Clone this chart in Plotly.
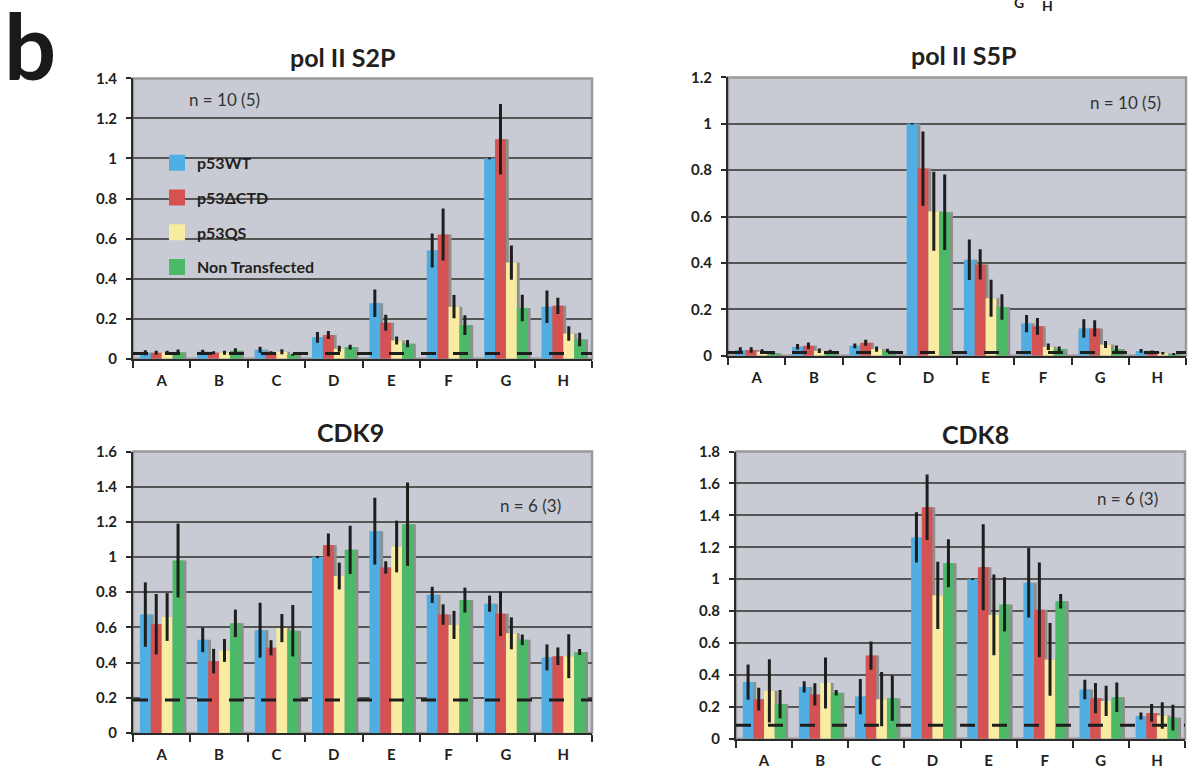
import plotly.graph_objects as go

# ---------------- data ----------------
categories = ["A", "B", "C", "D", "E", "F", "G", "H"]
series_names = ["p53WT", "p53ΔCTD", "p53QS", "Non Transfected"]
series_colors = ["#50AEE2", "#D55252", "#F8EBA2", "#4BB967"]

# pol II S2P
s2p_wt = [0.03, 0.035, 0.045, 0.107, 0.277, 0.54, 1.0, 0.26]
s2p_dctd = [0.03, 0.03, 0.03, 0.118, 0.18, 0.62, 1.096, 0.264]
s2p_qs = [0.03, 0.03, 0.035, 0.05, 0.091, 0.26, 0.48, 0.126]
s2p_nt = [0.033, 0.04, 0.02, 0.058, 0.075, 0.168, 0.253, 0.096]
s2p_wt_err = [0.012, 0.01, 0.015, 0.027, 0.069, 0.085, 0.004, 0.081]
s2p_dctd_err = [0.01, 0.008, 0.008, 0.02, 0.04, 0.13, 0.176, 0.04]
s2p_qs_err = [0.01, 0.01, 0.012, 0.015, 0.02, 0.058, 0.085, 0.036]
s2p_nt_err = [0.013, 0.012, 0.005, 0.012, 0.018, 0.049, 0.066, 0.034]
s2p_background = 0.026

# pol II S5P
s5p_wt = [0.025, 0.039, 0.043, 1.0, 0.414, 0.139, 0.118, 0.021]
s5p_dctd = [0.025, 0.043, 0.056, 0.807, 0.394, 0.127, 0.118, 0.015]
s5p_qs = [0.018, 0.022, 0.029, 0.623, 0.248, 0.039, 0.049, 0.011]
s5p_nt = [0.011, 0.018, 0.022, 0.619, 0.21, 0.029, 0.029, 0.007]
s5p_wt_err = [0.012, 0.012, 0.01, 0.003, 0.087, 0.037, 0.04, 0.008]
s5p_dctd_err = [0.012, 0.014, 0.013, 0.16, 0.065, 0.036, 0.035, 0.008]
s5p_qs_err = [0.01, 0.01, 0.011, 0.17, 0.08, 0.014, 0.015, 0.005]
s5p_nt_err = [0.005, 0.008, 0.008, 0.163, 0.055, 0.011, 0.015, 0.005]
s5p_background = 0.014

# CDK9
cdk9_wt = [0.673, 0.529, 0.584, 1.0, 1.147, 0.785, 0.735, 0.429]
cdk9_dctd = [0.618, 0.408, 0.484, 1.069, 0.941, 0.673, 0.677, 0.436]
cdk9_qs = [0.659, 0.469, 0.596, 0.892, 1.06, 0.614, 0.566, 0.436]
cdk9_nt = [0.98, 0.623, 0.581, 1.041, 1.187, 0.755, 0.529, 0.46]
cdk9_wt_err = [0.183, 0.07, 0.156, 0.006, 0.19, 0.046, 0.046, 0.074]
cdk9_dctd_err = [0.172, 0.07, 0.043, 0.065, 0.035, 0.058, 0.127, 0.05]
cdk9_qs_err = [0.136, 0.065, 0.08, 0.076, 0.147, 0.08, 0.091, 0.125]
cdk9_nt_err = [0.21, 0.078, 0.146, 0.137, 0.237, 0.071, 0.03, 0.017]
cdk9_background = 0.187

# CDK8
cdk8_wt = [0.355, 0.325, 0.264, 1.262, 1.0, 0.978, 0.308, 0.142]
cdk8_dctd = [0.248, 0.278, 0.521, 1.451, 1.075, 0.808, 0.254, 0.162]
cdk8_qs = [0.30, 0.349, 0.248, 0.899, 0.777, 0.497, 0.237, 0.146]
cdk8_nt = [0.217, 0.288, 0.254, 1.10, 0.842, 0.862, 0.26, 0.132]
cdk8_wt_err = [0.11, 0.035, 0.11, 0.157, 0.005, 0.218, 0.061, 0.022]
cdk8_dctd_err = [0.071, 0.069, 0.088, 0.205, 0.269, 0.297, 0.095, 0.055]
cdk8_qs_err = [0.198, 0.16, 0.17, 0.211, 0.253, 0.228, 0.095, 0.083]
cdk8_nt_err = [0.088, 0.017, 0.142, 0.15, 0.17, 0.045, 0.093, 0.081]
cdk8_background = 0.085

panel_titles = ["pol II S2P", "pol II S5P", "CDK9", "CDK8"]
panel_n_text = ["n = 10 (5)", "n = 10 (5)", "n = 6 (3)", "n = 6 (3)"]
panel_ymax = [1.4, 1.2, 1.6, 1.8]

panel_values = [
    [s2p_wt, s2p_dctd, s2p_qs, s2p_nt],
    [s5p_wt, s5p_dctd, s5p_qs, s5p_nt],
    [cdk9_wt, cdk9_dctd, cdk9_qs, cdk9_nt],
    [cdk8_wt, cdk8_dctd, cdk8_qs, cdk8_nt],
]
panel_errors = [
    [s2p_wt_err, s2p_dctd_err, s2p_qs_err, s2p_nt_err],
    [s5p_wt_err, s5p_dctd_err, s5p_qs_err, s5p_nt_err],
    [cdk9_wt_err, cdk9_dctd_err, cdk9_qs_err, cdk9_nt_err],
    [cdk8_wt_err, cdk8_dctd_err, cdk8_qs_err, cdk8_nt_err],
]
panel_background = [s2p_background, s5p_background, cdk9_background, cdk8_background]

# ---------------- layout geometry (pixels) ----------------
W, H = 1189, 778
FONT = "Lato"
TXT = "#231F20"
BG = "#C8CBD3"
GRID = "#555555"

# plot-area boxes: (left, right, top, bottom) in px
boxes = [(133, 592, 70, 357), (728, 1186, 69, 354), (133, 592, 452, 740), (736, 1185, 452, 746)]
title_pos = [(342, 48), (963, 46), (350, 432), (975, 434)]
n_pos = [(224, 92), (1125, 95), (530, 507), (1127, 500)]

def fx(p):
    return p / W

def fy(p):
    return 1 - p / H

positions = list(range(len(categories)))
bar_w = 0.19
offsets = [-0.38, -0.19, 0.0, 0.19]
shadow_shift = 0.05

fig = go.Figure()
layout_axes = {}
shapes = []
annotations = []

for k in range(4):
    sfx = "" if k == 0 else str(k + 1)
    xa, ya = "x" + sfx, "y" + sfx
    # shadows first
    for i in range(4):
        fig.add_trace(go.Bar(
            x=positions, y=panel_values[k][i], offset=offsets[i] + shadow_shift, width=bar_w,
            marker=dict(color="#8E8E8E", line=dict(width=0)),
            xaxis=xa, yaxis=ya, showlegend=False, hoverinfo="skip"))
    for i in range(4):
        fig.add_trace(go.Bar(
            x=positions, y=panel_values[k][i], offset=offsets[i], width=bar_w,
            marker=dict(color=series_colors[i], line=dict(width=0)),
            error_y=dict(type="data", array=panel_errors[k][i], color="#1E1E1E",
                         thickness=3, width=0),
            name=series_names[i], xaxis=xa, yaxis=ya, showlegend=False))
    # dashed background level
    fig.add_trace(go.Scatter(
        x=[positions[0] - 0.5, positions[-1] + 0.5],
        y=[panel_background[k], panel_background[k]],
        mode="lines", line=dict(color="#1E1E1E", width=3, dash="15px,17px"),
        xaxis=xa, yaxis=ya, showlegend=False, hoverinfo="skip", cliponaxis=False))

    l, r, t, b = boxes[k]
    layout_axes["xaxis" + sfx] = dict(
        domain=[fx(l), fx(r)], anchor=ya, range=[-0.5, len(categories) - 0.5],
        tickmode="array", tickvals=positions, ticktext=categories,
        ticks="outside", ticklen=0, ticklabelstandoff=7,
        tickfont=dict(family=FONT, size=15, color=TXT, weight="bold"),
        showgrid=False, zeroline=False,
        showline=True, linecolor="#2A2A2A", linewidth=2,
        minor=dict(tickmode="array", tickvals=[p - 0.5 for p in positions] + [positions[-1] + 0.5],
                   ticks="outside", ticklen=7, tickwidth=1.5, tickcolor="#2A2A2A", showgrid=False),
        fixedrange=True)
    layout_axes["yaxis" + sfx] = dict(
        domain=[fy(b), fy(t)], anchor=xa, range=[0, panel_ymax[k]], dtick=0.2,
        ticks="outside", ticklen=5, tickwidth=1.5, tickcolor="#2A2A2A", ticklabelstandoff=6,
        tickfont=dict(family=FONT, size=15, color=TXT, weight="bold"),
        showgrid=True, gridcolor=GRID, gridwidth=1.6, zeroline=False,
        showline=True, linecolor="#2A2A2A", linewidth=2, fixedrange=True)

    shapes.append(dict(type="rect", xref=xa + " domain", yref=ya + " domain",
                       x0=0, x1=1, y0=0, y1=1, fillcolor=BG,
                       line=dict(color="#9A9A9A", width=2.5), layer="below"))

    tx, ty = title_pos[k]
    annotations.append(dict(text=panel_titles[k], xref="paper", yref="paper", x=fx(tx), y=fy(ty),
                            xanchor="center", yanchor="middle", showarrow=False,
                            font=dict(family=FONT, size=25, color=TXT, weight="bold")))
    nx, ny = n_pos[k]
    annotations.append(dict(text=panel_n_text[k], xref="paper", yref="paper", x=fx(nx), y=fy(ny),
                            xanchor="center", yanchor="middle", showarrow=False,
                            font=dict(family=FONT, size=17, color="#333333")))

# legend entries (top-left panel)
for i in range(4):
    fig.add_trace(go.Scatter(x=[None], y=[None], mode="markers",
                             marker=dict(symbol="square", size=18, color=series_colors[i]),
                             name=series_names[i], legendgroup=series_names[i],
                             showlegend=True))

# panel letter and stray labels from the cropped figure above
annotations.append(dict(text="b", xref="paper", yref="paper", x=fx(30), y=fy(35),
                        xanchor="center", yanchor="middle", showarrow=False,
                        font=dict(family=FONT, size=92, color="#1A1A1A", weight="bold")))
annotations.append(dict(text="G", xref="paper", yref="paper", x=fx(1019), y=fy(3),
                        xanchor="center", yanchor="bottom", showarrow=False,
                        font=dict(family=FONT, size=14, color=TXT, weight="bold")))
annotations.append(dict(text="H", xref="paper", yref="paper", x=fx(1047), y=fy(6),
                        xanchor="center", yanchor="bottom", showarrow=False,
                        font=dict(family=FONT, size=14, color=TXT, weight="bold")))

fig.update_layout(
    width=W, height=H, margin=dict(l=0, r=0, t=0, b=0),
    paper_bgcolor="white", plot_bgcolor="rgba(0,0,0,0)",
    barmode="overlay", showlegend=True,
    legend=dict(x=fx(157), y=fy(139), xanchor="left", yanchor="top",
                bgcolor="rgba(0,0,0,0)", traceorder="grouped", tracegroupgap=11,
                font=dict(family=FONT, size=16, color=TXT, weight="bold"), itemsizing="trace"),
    shapes=shapes, annotations=annotations,
    **layout_axes)

fig.write_html("out.html")
